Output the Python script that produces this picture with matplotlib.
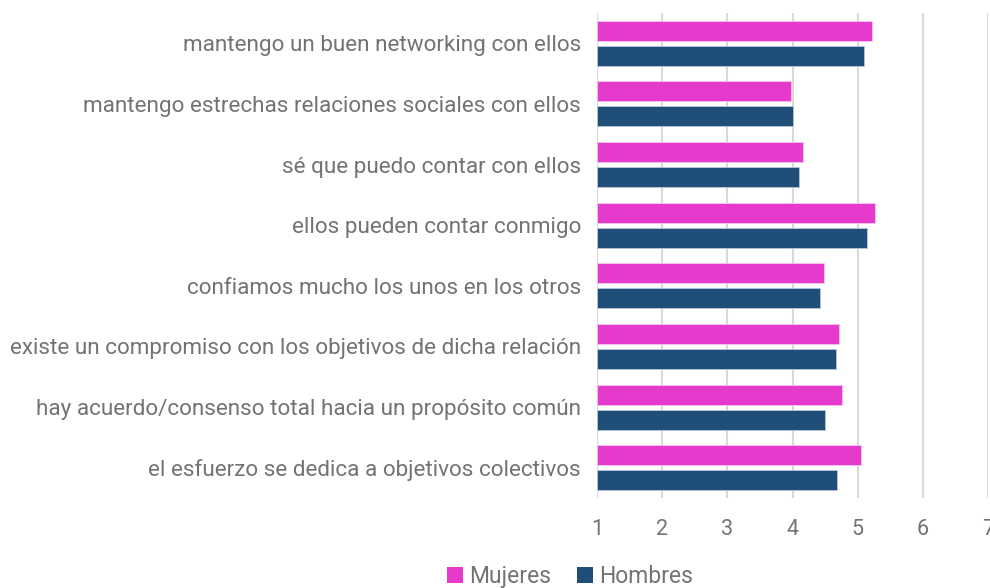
import matplotlib
matplotlib.use("Agg")
import matplotlib.pyplot as plt
import numpy as np
from matplotlib.patches import Patch

categories = [
    "mantengo un buen networking con ellos",
    "mantengo estrechas relaciones sociales con ellos",
    "sé que puedo contar con ellos",
    "ellos pueden contar conmigo",
    "confiamos mucho los unos en los otros",
    "existe un compromiso con los objetivos de dicha relación",
    "hay acuerdo/consenso total hacia un propósito común",
    "el esfuerzo se dedica a objetivos colectivos",
]
mujeres = [5.22, 3.97, 4.16, 5.27, 4.49, 4.72, 4.76, 5.05]
hombres = [5.09, 4.00, 4.10, 5.15, 4.42, 4.66, 4.50, 4.69]
xticks = [1, 2, 3, 4, 5, 6, 7]

c_muj = "#E53ACB"
c_hom = "#1F4E79"
txt = "#737373"

plt.rcParams['font.family'] = ['Roboto', 'DejaVu Sans']

fig = plt.figure(figsize=(9.9, 5.88), dpi=100)
ax = fig.add_axes([597/990, 1-498/588, (988-597)/990, (498-13)/588])

y = np.arange(len(categories))
h = 0.33
off = 0.206
ax.barh(y - off, np.array(mujeres) - 1, left=1, height=h, color=c_muj,
        edgecolor="#f3c6ec", linewidth=0.6, zorder=3)
ax.barh(y + off, np.array(hombres) - 1, left=1, height=h, color=c_hom,
        edgecolor="#b9c7d6", linewidth=0.6, zorder=3)

ax.set_xlim(1, 7)
ax.set_ylim(len(categories) - 0.5, -0.5)
ax.set_xticks(xticks)
ax.set_xticklabels([str(t) for t in xticks], fontsize=15.5, color=txt)
ax.set_yticks(y)
ax.set_yticklabels(categories, fontsize=16.2, color=txt)
ax.tick_params(axis='both', length=0)
ax.tick_params(axis='x', pad=15)
ax.tick_params(axis='y', pad=11.5)
for s in ax.spines.values():
    s.set_visible(False)
ax.grid(axis='x', color="#D9D9D9", linewidth=1.5, zorder=0)
ax.set_axisbelow(True)

handles = [Patch(facecolor=c_muj, label="Mujeres"),
           Patch(facecolor=c_hom, label="Hombres")]
leg = fig.legend(handles=handles, loc='lower center', bbox_to_anchor=(570/990, -0.035),
                 ncol=2, frameon=False, fontsize=16.5, handlelength=0.7, handleheight=0.7,
                 handletextpad=0.3, columnspacing=1.1)
for t in leg.get_texts():
    t.set_color(txt)

fig.savefig("out.png", dpi=100)
